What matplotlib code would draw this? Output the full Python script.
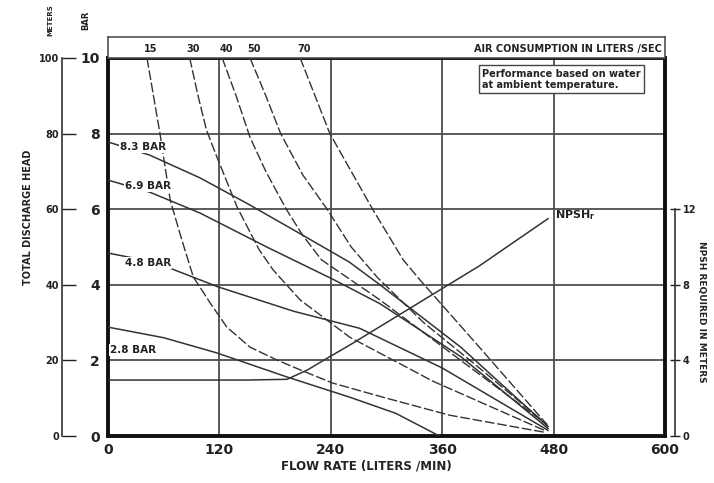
import matplotlib
matplotlib.use("Agg")
import matplotlib.pyplot as plt

plt.rcParams['font.family'] = ['DejaVu Sans']

# ---------------- data ----------------
flow_ticks = [0, 120, 240, 360, 480, 600]
bar_ticks = [0, 2, 4, 6, 8, 10]
meter_ticks = [0, 20, 40, 60, 80, 100]
npsh_ticks = [0, 4, 8, 12]

# discharge-head curves (solid), flow in L/min, head in bar
p83_flow = [0, 45, 99, 150, 200, 260, 293, 380, 474]
p83_head = [7.78, 7.43, 6.83, 6.15, 5.45, 4.6, 4.0, 2.35, 0.25]
p69_flow = [0, 45, 99, 171, 242, 293, 380, 474]
p69_head = [6.77, 6.45, 5.9, 5.0, 4.15, 3.5, 2.1, 0.2]
p48_flow = [0, 50, 118, 200, 271, 360, 474]
p48_head = [4.84, 4.6, 3.95, 3.3, 2.85, 1.8, 0.15]
p28_flow = [0, 60, 117, 193, 260, 310, 357]
p28_head = [2.88, 2.6, 2.2, 1.56, 1.03, 0.6, 0.0]
pressure_labels = ["8.3 BAR", "6.9 BAR", "4.8 BAR", "2.8 BAR"]

# air consumption curves (dashed), L/sec
a15_flow = [42, 56, 67, 80, 92, 99, 110, 128, 153, 182, 207, 242, 300, 368, 470]
a15_head = [10, 8.0, 6.24, 5.15, 4.2, 3.94, 3.52, 2.88, 2.35, 2.01, 1.75, 1.4, 1.0, 0.55, 0.1]
a30_flow = [88, 97, 106, 117, 139, 163, 178, 207, 260, 350, 470]
a30_head = [10, 9.0, 8.1, 7.4, 6.06, 4.92, 4.39, 3.6, 2.62, 1.45, 0.15]
a40_flow = [123, 138, 153, 170, 192, 210, 230, 293, 380, 473]
a40_head = [10, 9.0, 7.9, 7.0, 6.0, 5.3, 4.66, 3.6, 2.0, 0.3]
a50_flow = [153, 170, 186, 210, 236, 262, 290, 340, 400, 473]
a50_head = [10, 9.0, 8.0, 6.9, 6.0, 5.0, 4.2, 3.0, 1.8, 0.3]
a70_flow = [207, 239, 262, 285, 318, 336, 400, 473]
a70_head = [10, 8.0, 7.0, 6.0, 4.66, 4.13, 2.35, 0.3]
air_labels = ["15", "30", "40", "50", "70"]

# NPSH required (meters)
npsh_flow = [0, 150, 193, 215, 239, 260, 330, 400, 474]
npsh_m = [2.96, 2.96, 3.0, 3.5, 4.2, 4.8, 6.9, 9.0, 11.5]

# ---------------- figure ----------------
W, H = 714, 483
fig = plt.figure(figsize=(W / 100, H / 100), dpi=100)
fig.patch.set_facecolor('white')

def fx(px):
    return px / W

def fy(py):
    return 1 - py / H

L, R, T, B = 108, 665, 58, 436
ax = fig.add_axes([fx(L), fy(B), (R - L) / W, (B - T) / H])
ax.set_xlim(0, 600)
ax.set_ylim(0, 10)
ax.set_xticks(flow_ticks)
ax.set_yticks(bar_ticks)
ax.grid(True, color='#4d4d4d', lw=1.3, zorder=1)
ax.set_axisbelow(True)
for s in ax.spines.values():
    s.set_linewidth(2.8)
    s.set_color('#111')
ax.tick_params(length=0, labelsize=10, pad=6)
for lab in ax.get_xticklabels() + ax.get_yticklabels():
    lab.set_fontweight('bold')
    lab.set_color('#222')
ax.tick_params(axis='x', pad=5)

curve_kw = dict(color='#333333', lw=1.1, zorder=3)
press = [(p83_flow, p83_head), (p69_flow, p69_head), (p48_flow, p48_head), (p28_flow, p28_head)]
for f, h in press:
    ax.plot(f, h, **curve_kw)

air = [(a15_flow, a15_head), (a30_flow, a30_head), (a40_flow, a40_head),
       (a50_flow, a50_head), (a70_flow, a70_head)]
for f, h in air:
    ax.plot(f, h, color='#333333', lw=1.0, dashes=(7, 2), zorder=3)

# NPSH curve on its own scale (0-20 m over the full height)
axn = ax.twinx()
axn.set_ylim(0, 20)
axn.plot(npsh_flow, npsh_m, color='#333333', lw=1.1, zorder=3)
for k in ['left', 'top', 'bottom']:
    axn.spines[k].set_visible(False)
axn.spines['right'].set_position(('axes', 1.018))
axn.spines['right'].set_bounds(0, 12)
axn.spines['right'].set_linewidth(1.2)
axn.spines['right'].set_color('#333')
axn.set_yticks(npsh_ticks)
axn.tick_params(axis='y', direction='inout', length=7, width=1, labelsize=7, pad=2, colors='#222')
for lab in axn.get_yticklabels():
    lab.set_fontweight('bold')

# meters axis on the left
axm = ax.twinx()
axm.set_ylim(0, 100)
for k in ['right', 'top', 'bottom']:
    axm.spines[k].set_visible(False)
axm.yaxis.set_ticks_position('left')
axm.yaxis.set_label_position('left')
axm.spines['left'].set_position(('axes', -0.083))
axm.spines['left'].set_linewidth(1.2)
axm.spines['left'].set_color('#333')
axm.set_yticks(meter_ticks)
axm.tick_params(axis='y', direction='in', length=10, width=1, labelsize=7, pad=2, colors='#222')
for lab in axm.get_yticklabels():
    lab.set_fontweight('bold')

# pressure labels
label_offsets = [(8.5, -3.5), (12, -4.5), (12, -7), (1.5, -16.5)]
for (f, h), text, off in zip(press, pressure_labels, label_offsets):
    ax.annotate(text, xy=(f[0], h[0]), xytext=off, textcoords='offset points',
                fontsize=7.5, fontweight='bold', ha='left', va='center', color='#222',
                zorder=5,
                bbox=dict(boxstyle='square,pad=0.1', fc='white', ec='none'))

ax.text(481, 5.85, r'$\mathbf{NPSH_r}$', fontsize=8, ha='left', va='center', color='#222', zorder=5)

ax.text(0.672, 0.972, "Performance based on water\nat ambient temperature.",
        transform=ax.transAxes, fontsize=7, fontweight='bold', ha='left', va='top',
        color='#222', linespacing=1.15, zorder=6,
        bbox=dict(boxstyle='square,pad=0.35', fc='white', ec='#444', lw=1.0))

# top strip with air consumption values
strip = fig.add_axes([fx(L), fy(T), (R - L) / W, (T - 37) / H])
strip.set_xlim(0, 600)
strip.set_ylim(0, 1)
strip.set_xticks([])
strip.set_yticks([])
for s in strip.spines.values():
    s.set_linewidth(1.1)
    s.set_color('#444')
for (f, h), text in zip(air, air_labels):
    strip.text(f[0] + 4, 0.45, text, fontsize=7, fontweight='bold', ha='center',
               va='center', color='#222')
strip.text(597, 0.45, "AIR CONSUMPTION IN LITERS /SEC", fontsize=7, fontweight='bold',
           ha='right', va='center', color='#222')

# axis titles
fig.text(fx(366), fy(466), "FLOW RATE (LITERS /MIN)", fontsize=8.5, fontweight='bold',
         ha='center', va='center', color='#222')
fig.text(fx(28), fy(217), "TOTAL DISCHARGE HEAD", fontsize=7, fontweight='bold',
         rotation=90, ha='center', va='center', color='#222')
fig.text(fx(50), fy(20), "METERS", fontsize=5, fontweight='bold',
         rotation=90, ha='center', va='center', color='#222')
fig.text(fx(86), fy(20), "BAR", fontsize=6, fontweight='bold',
         rotation=90, ha='center', va='center', color='#222')
fig.text(fx(701), fy(312), "NPSH REQUIRED IN METERS", fontsize=6.5, fontweight='bold',
         rotation=270, ha='center', va='center', color='#222')

fig.savefig("out.png", dpi=100)
